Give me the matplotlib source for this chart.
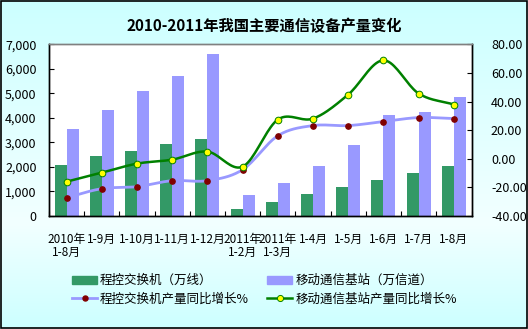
import matplotlib
matplotlib.use("Agg")
import matplotlib.pyplot as plt
import numpy as np
from matplotlib.colors import LinearSegmentedColormap
from matplotlib.lines import Line2D
from matplotlib.patches import Patch, Rectangle

plt.rcParams["font.family"] = ["Noto Sans CJK SC", "DejaVu Sans"]

periods = ["2010年\n1-8月", "1-9月", "1-10月", "1-11月", "1-12月", "2011年\n1-2月",
           "2011年\n1-3月", "1-4月", "1-5月", "1-6月", "1-7月", "1-8月"]
switch_lines = [2080, 2440, 2650, 2930, 3130, 285, 570, 895, 1180, 1465, 1750, 2035]
base_channels = [3540, 4310, 5090, 5700, 6590, 855, 1340, 2035, 2890, 4110, 4230, 4840]
switch_growth = [-27.2, -20.9, -19.5, -15.3, -15.3, -7.6, 16.1, 23.2, 23.2, 26.0, 28.8, 28.1]
base_growth = [-16.0, -9.7, -3.4, -0.6, 5.0, -5.5, 27.4, 28.1, 44.9, 68.8, 45.6, 37.9]

GREEN_BAR = "#339966"
PURPLE = "#9999FF"
GREEN_LINE = "#008000"
DARK_RED = "#800000"


def smooth(xs, ys, steps=20):
    # Catmull-Rom curve through every point, like a smoothed line in a spreadsheet
    xs = np.asarray(xs, float)
    ys = np.asarray(ys, float)
    px = np.concatenate([[2 * xs[0] - xs[1]], xs, [2 * xs[-1] - xs[-2]]])
    py = np.concatenate([[2 * ys[0] - ys[1]], ys, [2 * ys[-1] - ys[-2]]])
    out_x, out_y = [], []
    t = np.linspace(0, 1, steps, endpoint=False)
    for i in range(1, len(px) - 2):
        for p, out in ((px, out_x), (py, out_y)):
            p0, p1, p2, p3 = p[i - 1], p[i], p[i + 1], p[i + 2]
            out.extend(0.5 * ((2 * p1) + (-p0 + p2) * t
                              + (2 * p0 - 5 * p1 + 4 * p2 - p3) * t ** 2
                              + (-p0 + 3 * p1 - 3 * p2 + p3) * t ** 3))
    out_x.append(xs[-1])
    out_y.append(ys[-1])
    return np.array(out_x), np.array(out_y)


fig = plt.figure(figsize=(5.28, 3.29), dpi=100)

# cyan backdrop that fades lighter toward the lower part
bg = fig.add_axes([0, 0, 1, 1], zorder=-10)
cmap = LinearSegmentedColormap.from_list(
    "bg", [(0.0, "#CCFFFF"), (0.68, "#F2FFFF"), (1.0, "#CCFFFF")])
bg.imshow(np.linspace(0, 1, 256).reshape(-1, 1), aspect="auto", cmap=cmap,
          extent=[0, 1, 1, 0])
bg.set_axis_off()
fig.add_artist(Rectangle((0.001, 0.002), 0.997, 0.996, transform=fig.transFigure,
                         fill=False, edgecolor="black", linewidth=1.2))

ax = fig.add_axes([0.0928, 0.3435, 0.8002, 0.5218])
ax.set_facecolor("white")
x = np.arange(len(periods))
w = 0.341
ax.bar(x - w / 2, switch_lines, width=w, color=GREEN_BAR, zorder=2)
ax.bar(x + w / 2, base_channels, width=w, color=PURPLE, zorder=2)
ax.set_xlim(-0.5, len(periods) - 0.5)
ax.set_ylim(0, 7000)
ax.set_yticks(range(0, 7001, 1000))
ax.set_yticklabels([f"{v:,}" for v in range(0, 7001, 1000)])
ax.set_xticks(x)
ax.set_xticklabels(periods, fontsize=8.5, linespacing=1.05)
ax.set_xticks(np.arange(-0.5, len(periods), 1), minor=True)
ax.tick_params(axis="x", which="major", length=0, pad=12)
ax.tick_params(axis="x", which="minor", direction="in", length=3.5, width=0.8)
ax.tick_params(axis="y", direction="in", length=3.5, width=0.8, labelsize=9, pad=9)

ax2 = ax.twinx()
ax2.set_ylim(-40, 80)
ax2.set_yticks(range(-40, 81, 20))
ax2.set_yticklabels([f"{v:.2f}" for v in range(-40, 81, 20)])
ax2.tick_params(axis="y", direction="in", length=3.5, width=0.8, labelsize=9, pad=14)

sx, sy = smooth(x, switch_growth)
ax2.plot(sx, sy, color=PURPLE, lw=2.0, zorder=3)
ax2.plot(x, switch_growth, ls="none", marker="o", ms=3.8, color=DARK_RED, zorder=4)
gx, gy = smooth(x, base_growth)
ax2.plot(gx, gy, color=GREEN_LINE, lw=1.8, zorder=5)
ax2.plot(x, base_growth, ls="none", marker="o", ms=4.8, markerfacecolor="#FFFF00",
         markeredgecolor=GREEN_LINE, markeredgewidth=0.7, zorder=6)

for a in (ax, ax2):
    for side in ("left", "right", "bottom"):
        a.spines[side].set_color("black")
        a.spines[side].set_linewidth(1.0)
    a.spines["top"].set_color("#808080")
    a.spines["top"].set_linewidth(1.0)

fig.suptitle("2010-2011年我国主要通信设备产量变化", fontsize=11, fontweight="bold",
             y=0.945)

leg_kw = dict(frameon=False, fontsize=9, handlelength=2.0, handleheight=0.6,
              handletextpad=0.25, labelspacing=0.45, borderaxespad=0,
              borderpad=0)
h1 = [Patch(color=GREEN_BAR),
      Line2D([], [], color=PURPLE, lw=2, marker="o", ms=3.6,
             markerfacecolor=DARK_RED, markeredgecolor=DARK_RED)]
h2 = [Patch(color=PURPLE),
      Line2D([], [], color=GREEN_LINE, lw=1.8, marker="o", ms=4.4,
             markerfacecolor="#FFFF00", markeredgecolor=GREEN_LINE,
             markeredgewidth=0.7)]
fig.legend(h1, ["程控交换机（万线）", "程控交换机产量同比增长%"],
           loc="upper left", bbox_to_anchor=(72 / 528, 1 - 274 / 329), **leg_kw)
fig.legend(h2, ["移动通信基站（万信道）", "移动通信基站产量同比增长%"],
           loc="upper left", bbox_to_anchor=(267 / 528, 1 - 274 / 329), **leg_kw)

fig.savefig("out.png", dpi=100)
